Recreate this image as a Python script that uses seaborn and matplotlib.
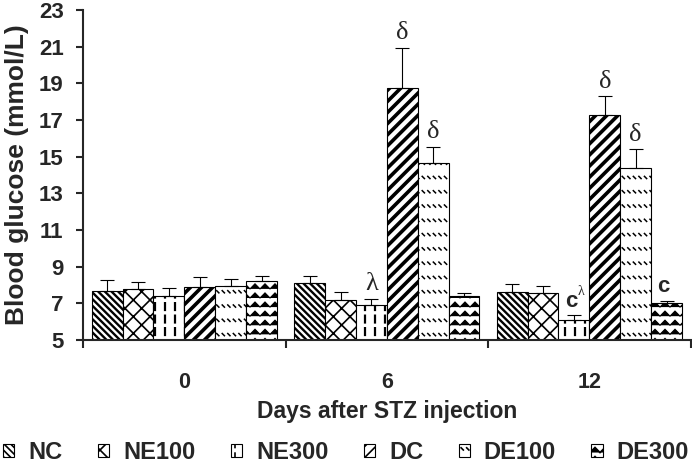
#!/usr/bin/env python3

import matplotlib
matplotlib.use("Agg")
import numpy as np
import pandas as pd
import seaborn as sns
from matplotlib import hatch as mhatch
from matplotlib import pyplot as plt
from matplotlib.path import Path

days = ["0", "6", "12"]
groups = ["NC", "NE100", "NE300", "DC", "DE100", "DE300"]

# mean blood glucose (mmol/L) on day 0, 6, 12
nc = [7.7, 8.1, 7.6]
ne100 = [7.8, 7.2, 7.55]
ne300 = [7.4, 6.9, 6.1]
dc = [7.9, 18.75, 17.25]
de100 = [7.95, 14.65, 14.4]
de300 = [8.2, 7.4, 7.0]

# upper error bars
nc_err = [0.6, 0.4, 0.45]
ne100_err = [0.35, 0.42, 0.38]
ne300_err = [0.45, 0.36, 0.27]
dc_err = [0.55, 2.2, 1.05]
de100_err = [0.4, 0.9, 1.0]
de300_err = [0.3, 0.15, 0.15]

# significance letters over bars
marks = {
    ("NE300", "6"): "λ",
    ("DC", "6"): "δ",
    ("DE100", "6"): "δ",
    ("NE300", "12"): "cλ",
    ("DC", "12"): "δ",
    ("DE100", "12"): "δ",
    ("DE300", "12"): "c",
}


class DashHatch(mhatch.HatchPatternBase):
    """short vertical dashes (':')"""

    def __init__(self, hatch, density):
        self.cols = 10 * hatch.count(":")
        self.rows = 8
        self.num_vertices = self.cols * self.rows * 2

    def set_vertices_and_codes(self, vertices, codes):
        xx, yy = np.meshgrid((np.arange(self.cols) + 0.5) / self.cols,
                             np.arange(self.rows) / self.rows)
        xx, yy = xx.ravel(), yy.ravel()
        vertices[0::2, 0] = xx
        vertices[0::2, 1] = yy + 0.2 / self.rows
        vertices[1::2, 0] = xx
        vertices[1::2, 1] = yy + 0.75 / self.rows
        codes[0::2] = Path.MOVETO
        codes[1::2] = Path.LINETO


class WaveHatch(mhatch.HatchPatternBase):
    """horizontal zigzag lines ('~')"""

    def __init__(self, hatch, density):
        self.rows = 11 * hatch.count("~")
        self.n = 21
        self.num_vertices = self.rows * self.n

    def set_vertices_and_codes(self, vertices, codes):
        xs = np.linspace(0, 1, self.n)
        amp = 0.28 / max(self.rows, 1)
        zig = np.where(np.arange(self.n) % 2 == 0, -amp, amp)
        for i in range(self.rows):
            seg = slice(i * self.n, (i + 1) * self.n)
            vertices[seg, 0] = xs
            vertices[seg, 1] = (i + 0.5) / self.rows + zig
            codes[seg] = Path.LINETO
            codes[i * self.n] = Path.MOVETO


class TickRowHatch(mhatch.HatchPatternBase):
    """rows of short '\\' ticks (';')"""

    def __init__(self, hatch, density):
        self.rows = 7 * hatch.count(";")
        self.cols = 18
        self.num_vertices = self.rows * self.cols * 2

    def set_vertices_and_codes(self, vertices, codes):
        xx, yy = np.meshgrid(np.arange(self.cols) / self.cols,
                             (np.arange(self.rows) + 0.5) / self.rows)
        xx, yy = xx.ravel(), yy.ravel()
        d = 0.022
        vertices[0::2, 0] = xx
        vertices[0::2, 1] = yy + d
        vertices[1::2, 0] = xx + d
        vertices[1::2, 1] = yy
        codes[0::2] = Path.MOVETO
        codes[1::2] = Path.LINETO


mhatch._hatch_types.extend([DashHatch, WaveHatch, TickRowHatch])

hatches = {"NC": "\\" * 5, "NE100": "xx", "NE300": ":", "DC": "///",
           "DE100": ";", "DE300": "~"}
hatch_widths = {"NC": 1.7, "NE100": 1.2, "NE300": 1.6, "DC": 2.6,
                "DE100": 1.1, "DE300": 0.8}

sns.set_style("ticks")
plt.rcParams["font.family"] = ["Liberation Sans", "DejaVu Sans"]
plt.rcParams["font.weight"] = "bold"
plt.rcParams["hatch.linewidth"] = 1.2

means = [nc, ne100, ne300, dc, de100, de300]
errs = [nc_err, ne100_err, ne300_err, dc_err, de100_err, de300_err]
rows = []
for g, m, e in zip(groups, means, errs):
    for d, v, s in zip(days, m, e):
        rows.append((d, g, v, s))
df = pd.DataFrame(rows, columns=["day", "group", "glucose", "err"])

fig = plt.figure(figsize=(6.92, 4.69), dpi=100)
ax = fig.add_axes([0.12, 0.275, 0.878, 0.7036])

sns.barplot(data=df, x="day", y="glucose", hue="group", order=days,
            hue_order=groups, palette=["white"] * len(groups),
            edgecolor="black", linewidth=0.8, width=0.915, errorbar=None,
            legend=False, ax=ax)

handles = []
for g, cont in zip(groups, ax.containers):
    sub = df[df.group == g].set_index("day").loc[days]
    xs = []
    for p in cont.patches:
        p.set_hatch(hatches[g])
        if hasattr(p, "set_hatch_linewidth"):
            p.set_hatch_linewidth(hatch_widths[g])
        xs.append(p.get_x() + p.get_width() / 2)
    handles.append(cont.patches[0])
    ax.errorbar(xs, sub.glucose, yerr=[np.zeros(len(xs)), sub.err],
                fmt="none", ecolor="black", elinewidth=0.8, capsize=5,
                capthick=0.8, zorder=1)
    for x, d in zip(xs, days):
        lab = marks.get((g, d))
        if lab is None:
            continue
        top = sub.glucose[d] + sub.err[d]
        if lab.startswith("c"):
            ax.annotate("c", (x, top), xytext=(-2, 6), textcoords="offset points",
                        ha="center", va="baseline", fontsize=16,
                        fontweight="bold")
            if len(lab) > 1:
                ax.annotate(lab[1:], (x, top), xytext=(5, 14),
                            textcoords="offset points", ha="center",
                            va="baseline", fontsize=10,
                            family="Liberation Serif", fontweight="normal")
        else:
            ax.annotate(lab, (x, top), xytext=(0, 6), textcoords="offset points",
                        ha="center", va="baseline", fontsize=19,
                        family="Liberation Serif", fontweight="normal")

ax.set_ylim(5, 23)
ax.set_yticks(np.arange(5, 24, 2))
ax.set_xlim(-0.5, len(days) - 0.5)
ax.set_xticks(np.arange(-0.5, len(days), 1.0), minor=True)
ax.tick_params(axis="x", which="major", length=0, pad=23, labelsize=15.5)
ax.tick_params(axis="x", which="minor", length=6, width=1.5, direction="out")
ax.tick_params(axis="y", length=5, width=1.5, pad=9, labelsize=16)
for side in ["top", "right"]:
    ax.spines[side].set_visible(False)
for side in ["left", "bottom"]:
    ax.spines[side].set_linewidth(1.5)
ax.set_xlabel("Days after STZ injection", fontsize=16.5, fontweight="bold",
              labelpad=5)
ax.set_ylabel("Blood glucose (mmol/L)", fontsize=19, fontweight="bold",
              labelpad=7)

fig.legend(handles, groups, loc="center", bbox_to_anchor=(0.5, 0.036),
           ncol=6, frameon=False, fontsize=17, handlelength=0.47,
           handleheight=0.5, handletextpad=0.6, columnspacing=1.5,
           borderpad=0, borderaxespad=0)

fig.savefig("out.png", dpi=100)
